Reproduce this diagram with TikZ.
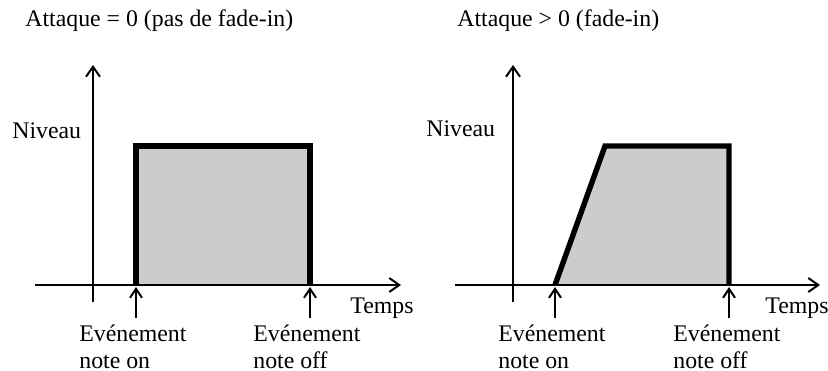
\documentclass[tikz,border=0pt]{standalone}
\usepackage{fontspec}
\setmainfont{Liberation Serif}
\usetikzlibrary{arrows.meta, positioning}

\begin{document}
\begin{tikzpicture}[
    x=0.5pt, y=-0.5pt,
    lbl/.style={inner sep=0pt, anchor=base west, font=\fontsize{11.9}{13.3}\selectfont},
    evt/.style={lbl, align=left},
    axis/.style={-{Straight Barb[length=5pt, width=7pt]}, line width=1pt},
    arr/.style={-{Straight Barb[length=4.5pt, width=6pt]}, line width=1pt},
    env/.style={line width=2.7pt, fill=black!20, line join=miter},
]
    \useasboundingbox (0,0) rectangle (828,370);

    % left panel: attack = 0
    \node[lbl] (titleA) at (25,26) {Attaque = 0 (pas de fade-in)};
    \node[lbl] (levelA) at (12,138) {Niveau};
    \node[lbl] (timeA) at (350,313) {Temps};
    \node[evt] (onA) at (79,368) {Evénement\\note on};
    \node[evt] (offA) at (253,368) {Evénement\\note off};

    \coordinate (yA0) at (93,302);
    \coordinate (yA1) at (93,65);
    \coordinate (xA0) at (35,285);
    \coordinate (xA1) at (401,285);
    \coordinate (onA0) at (136,318);
    \coordinate (onA1) at (136,287);
    \coordinate (offA0) at (310,318);
    \coordinate (offA1) at (310,287);

    \draw[env] (136,285) -- (136,146) -- (310,146) -- (310,285);
    \draw[axis] (yA0) -- (yA1);
    \draw[axis] (xA0) -- (xA1);
    \draw[arr] (onA0) -- (onA1);
    \draw[arr] (offA0) -- (offA1);

    % right panel: attack > 0
    \node[lbl] (titleB) at (457,26) {Attaque > 0 (fade-in)};
    \node[lbl] (levelB) at (426,136) {Niveau};
    \node[lbl] (timeB) at (765,313) {Temps};
    \node[evt] (onB) at (498,368) {Evénement\\note on};
    \node[evt] (offB) at (673,368) {Evénement\\note off};

    \coordinate (yB0) at (513,302);
    \coordinate (yB1) at (513,65);
    \coordinate (xB0) at (455,285);
    \coordinate (xB1) at (820,285);
    \coordinate (onB0) at (555,318);
    \coordinate (onB1) at (555,287);
    \coordinate (offB0) at (729,318);
    \coordinate (offB1) at (729,287);

    \draw[env] (555,285) -- (605,146) -- (729,146) -- (729,285);
    \draw[axis] (yB0) -- (yB1);
    \draw[axis] (xB0) -- (xB1);
    \draw[arr] (onB0) -- (onB1);
    \draw[arr] (offB0) -- (offB1);
\end{tikzpicture}
\end{document}
